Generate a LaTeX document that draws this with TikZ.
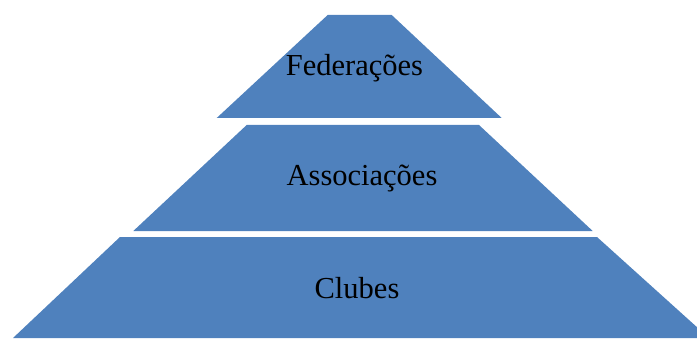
\documentclass[tikz,border=0pt]{standalone}
\usepackage{fontspec}
\setmainfont{Liberation Serif}
\usepackage{tikz}
\definecolor{pyrblue}{HTML}{4F81BD}
\tikzset{layer/.style={fill=pyrblue},
    label text/.style={anchor=base,text=black,font=\fontsize{30.5}{36}\selectfont}}

\begin{document}
\begin{tikzpicture}[x=1pt,y=1pt]
        \pgfmathsetmacro\w{697}
        \pgfmathsetmacro\h{338}
        \useasboundingbox (0,0) rectangle (\w,\h);
        \clip (0,0) rectangle (\w,\h);
        % top layer
        \coordinate (F1) at (216.7,220);
        \coordinate (F2) at (501.7,220);
        \coordinate (F3) at (391.7,323);
        \coordinate (F4) at (327.7,323);
        % middle layer
        \coordinate (A1) at (133.3,107);
        \coordinate (A2) at (592.7,107);
        \coordinate (A3) at (479,213);
        \coordinate (A4) at (246.7,213);
        % bottom layer
        \coordinate (C1) at (13,0);
        \coordinate (C2) at (709,0);
        \coordinate (C3) at (597,101);
        \coordinate (C4) at (120,101);
        \fill[layer] (F1) -- (F2) -- (F3) -- (F4) -- cycle;
        \fill[layer] (A1) -- (A2) -- (A3) -- (A4) -- cycle;
        \fill[layer] (C1) -- (C2) -- (C3) -- (C4) -- cycle;
        \node[label text] (fed) at (354.5,262) {Federações};
        \node[label text] (assoc) at (362,152) {Associações};
        \node[label text] (club) at (357,39.7) {Clubes};
    \end{tikzpicture}
\end{document}
